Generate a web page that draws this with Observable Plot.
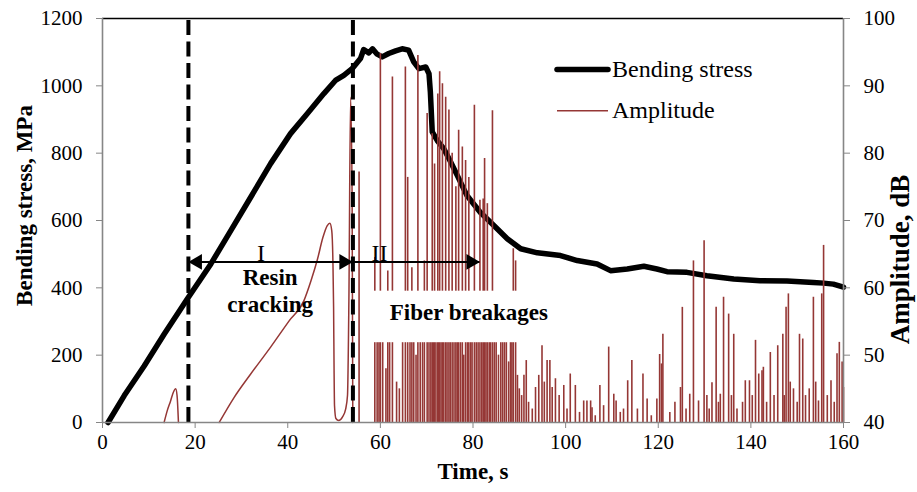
<!DOCTYPE html>
<html><head><meta charset="utf-8">
<script src="https://cdn.jsdelivr.net/npm/d3@7"></script>
<script src="https://cdn.jsdelivr.net/npm/@observablehq/plot@0.6"></script>
<style>
body{margin:0;background:#fff;}
#chart{width:917px;height:492px;}
</style></head><body><div id="chart"></div>
<script>
// ---------- data ----------
const xTicks = [0, 20, 40, 60, 80, 100, 120, 140, 160];
const yTicksMPa = [0, 200, 400, 600, 800, 1000, 1200];
const yTicksDb = [40, 50, 60, 70, 80, 90, 100];

const seriesNames = ["Bending stress", "Amplitude"];
const seriesColors = ["#000000", "#953735"];

const stressTime = [1.2, 4.7, 9.0, 13.3, 18.3, 23.4, 27.7, 32.0, 36.3, 40.6, 44.2, 47.8, 50.3, 52.1, 53.9, 55.7, 56.4, 57.5, 58.3, 59.3, 60.4, 61.8, 63.3, 64.7, 66.1, 67.2, 68.3, 69.8, 70.5, 70.8, 71.2, 72.3, 73.7, 75.1, 76.6, 78.7, 81.6, 84.5, 87.4, 90.3, 93.9, 98.9, 102.5, 106.8, 109.7, 113.3, 116.9, 119.7, 121.9, 126.2, 130.5, 136.3, 142.0, 147.8, 153.5, 155.7, 157.8, 160.0];
const stressMPa = [0, 80, 168, 262, 367, 471, 570, 669, 769, 858, 917, 977, 1016, 1031, 1051, 1081, 1108, 1098, 1110, 1094, 1086, 1096, 1104, 1110, 1106, 1071, 1051, 1056, 1036, 980, 863, 837, 813, 776, 734, 674, 624, 585, 546, 516, 504, 496, 481, 471, 451, 456, 464, 456, 448, 446, 436, 426, 421, 420, 416, 414, 411, 402];

// smooth part of the amplitude trace (null = gap)
const ampCurveTime = [13.3, 14.0, 14.7, 15.3, 15.8, 16.1, 16.4, 20.0, 25.2, 28.4, 32.0, 36.3, 40.3, 43.5, 45.0, 46.4, 47.6, 48.5, 49.1, 49.5, 49.75, 49.9, 50.0, 50.1, 50.4, 51.0, 51.8, 52.5, 52.9, 53.2, 53.57, 53.9, 54.05];
const ampCurveDb = [40, 41.8, 43.2, 44.5, 45, 44, 40, null, 40, 43.7, 47.2, 51.2, 55.1, 58.1, 61, 64.2, 67.5, 69.2, 69.6, 68.5, 64, 57, 48, 42.5, 40.6, 40.3, 40.8, 42, 44, 58, 88.3, 73, 40];

// acoustic emission hits (spikes)
const hitTime = [55.4, 58.8, 59.3, 59.7, 60.0, 60.5, 61.2, 61.6, 62.0, 62.6, 63.5, 64.1, 64.8, 65.4, 65.9, 66.4, 66.8, 67.2, 67.7, 68.1, 68.6, 69.1, 69.5, 70.1, 70.5, 70.9, 71.2, 71.5, 71.7, 72.0, 72.4, 72.6, 72.8, 73.1, 73.4, 73.7, 74.1, 74.4, 74.8, 75.1, 75.5, 75.9, 76.3, 76.6, 76.9, 77.3, 77.7, 78.0, 78.4, 78.8, 79.1, 79.5, 79.8, 80.3, 80.7, 81.1, 81.5, 81.9, 82.2, 82.5, 82.8, 83.1, 83.5, 83.8, 84.2, 84.6, 85.0, 85.5, 86.0, 86.4, 86.8, 87.2, 87.7, 88.1, 88.4, 88.7, 89.2, 89.6, 90.0, 90.5, 91.0, 91.5, 92.0, 92.8, 93.5, 94.2, 94.9, 95.4, 96.0, 96.6, 97.1, 97.8, 98.6, 99.6, 100.3, 101.0, 102.1, 103.0, 103.9, 104.6, 105.4, 105.7, 106.4, 107.4, 108.2, 109.3, 110.4, 110.9, 111.8, 112.5, 113.4, 114.3, 115.5, 116.7, 117.6, 118.5, 119.7, 120.3, 120.7, 121.0, 122.5, 123.6, 124.8, 125.2, 126.0, 126.8, 127.6, 128.7, 129.9, 130.5, 131.0, 131.6, 132.5, 133.0, 133.4, 134.1, 135.2, 135.8, 136.3, 137.0, 138.2, 138.8, 139.7, 140.3, 141.0, 141.7, 142.4, 142.7, 143.4, 144.2, 145.0, 145.8, 146.9, 147.2, 147.6, 148.1, 148.5, 149.2, 150.0, 150.5, 151.2, 151.8, 152.6, 153.5, 154.0, 154.6, 155.3, 155.7, 156.5, 157.3, 158.0, 158.6, 159.1, 159.7, 160.0];
const hitDb = [77.2, 64.5, 55, 52.5, 94.8, 54, 48, 62.5, 53, 91.3, 46, 45, 53, 92.8, 76.4, 52, 63, 53, 50, 94.5, 53, 54, 64, 85.9, 55, 53, 82.9, 54, 78.4, 55, 88.8, 54, 92.1, 56, 90.3, 55, 88.3, 54, 86.4, 53, 80, 55, 75, 52, 83.4, 54, 80.9, 50, 78.9, 53, 76.4, 52, 54, 87.1, 52, 53, 73, 55, 73.2, 79.2, 54, 72.5, 53, 52, 86.3, 54, 52, 50, 53, 52, 55, 52, 49, 53, 55, 65.8, 64, 47, 45, 44, 47, 49.2, 43, 42, 45.2, 47, 51.4, 46, 49.2, 49.2, 45.2, 46.5, 44, 45.5, 42, 47.2, 45.5, 41.5, 43.2, 43.2, 43.2, 42.2, 41, 45.5, 42.5, 51.2, 44.2, 43.2, 41.5, 42, 46.2, 49.2, 42, 47.2, 43.5, 41, 43.5, 50.1, 48.7, 53.1, 41.5, 43, 45.2, 57.1, 42, 44.2, 64.0, 43.2, 67.0, 44, 42, 45.9, 57.1, 43, 44.2, 58.6, 56.1, 44, 53.1, 42, 43, 46.2, 46.2, 44, 52.2, 47.2, 47.7, 48.2, 43, 50.4, 44, 51.4, 53.1, 44, 57.1, 59.1, 46, 45, 43, 53.1, 52.4, 44, 45, 58.6, 46, 43.2, 59.1, 66.3, 44, 46.2, 43, 50.2, 51.9, 49, 45.2];

// annotations (stage boundaries, arrow level, labels)
const stageBounds = [18.55, 54.07];
const stageArrowEnd = 81.5;
const arrowLevel = 477;
const stageNames = ["I", "II"];
const stageNameTime = [34.2, 59.8];
const stageNameLevel = 504;
const stageTexts = ["Resin\ncracking", "Fiber breakages"];
const stageTextTime = [36.2, 79.1];
const stageTextLevel = [395, 329];
const fiberBox = {x1: 57.4, x2: 99.0, y1: 237, y2: 390};

// ---------- build ----------
const dbToY = db => (db - 40) * 20;   // right axis 40–100 dB ↔ left axis 0–1200 MPa
const stressData = stressTime.map((t, i) => ({t, v: stressMPa[i]}));
const ampCurveData = ampCurveTime.map((t, i) => ({t, db: ampCurveDb[i]}));
const hitData = hitTime.map((t, i) => ({t, db: hitDb[i]}));
const ampColor = seriesColors[1];
const axisGray = "#868686";
const serif = "'Liberation Serif', 'Times New Roman', serif";

const svg = Plot.plot({
  width: 917, height: 492,
  marginLeft: 102, marginRight: 74, marginTop: 18, marginBottom: 70,
  style: {fontFamily: serif, fontSize: "21px", background: "white", color: "black", overflow: "visible"},
  x: {domain: [0, 160]},
  y: {domain: [0, 1200]},
  marks: [
    Plot.line(stressData, {x: "t", y: "v", stroke: seriesColors[0], strokeWidth: 5.5, strokeLinejoin: "round", strokeLinecap: "round"}),
    Plot.line(ampCurveData, {x: "t", y: d => d.db == null ? NaN : dbToY(d.db), stroke: ampColor, strokeWidth: 1.5, curve: "monotone-x"}),
    Plot.ruleX(hitData, {x: "t", y1: 0, y2: d => dbToY(d.db), stroke: ampColor, strokeWidth: 1.6}),
    Plot.ruleX(stageBounds, {y1: 0, y2: 1200, stroke: "black", strokeWidth: 4, strokeDasharray: "15,6.5"}),
    Plot.ruleY([arrowLevel], {x1: stageBounds[0], x2: stageArrowEnd, stroke: "black", strokeWidth: 2}),
    Plot.dot([stageBounds[0]], {x: d => d, y: arrowLevel, symbol: "triangle", r: 5.8, fill: "black", stroke: null, rotate: -90, dx: 9}),
    Plot.dot([stageBounds[1], stageArrowEnd], {x: d => d, y: arrowLevel, symbol: "triangle", r: 5.8, fill: "black", stroke: null, rotate: 90, dx: -9}),
    Plot.rect([fiberBox], {x1: "x1", x2: "x2", y1: "y1", y2: "y2", fill: "white"}),
    Plot.text(stageNames, {x: (d, i) => stageNameTime[i], y: stageNameLevel, text: d => d, fontSize: 24, fontFamily: serif}),
    Plot.text(stageTexts, {x: (d, i) => stageTextTime[i], y: (d, i) => stageTextLevel[i], text: d => d, fontSize: 23, fontWeight: "bold", fontFamily: serif, lineHeight: 1.17}),
    Plot.ruleY([1200], {stroke: "black", strokeWidth: 1.3}),
    Plot.ruleX([0, 160], {y1: 0, y2: 1200, stroke: axisGray, strokeWidth: 1.6}),
    Plot.ruleY([0], {stroke: axisGray, strokeWidth: 1.6}),
    Plot.axisX(xTicks, {anchor: "bottom", tickSize: 6, tickPadding: 6, stroke: axisGray, fill: "black", fontSize: 21, label: null, tickFormat: v => String(v)}),
    Plot.axisY(yTicksMPa, {anchor: "left", tickSize: 6, tickPadding: 14, stroke: axisGray, fill: "black", fontSize: 21, label: null, tickFormat: v => String(v)}),
    Plot.axisY(yTicksDb.map(dbToY), {anchor: "right", tickSize: 6, tickPadding: 14, stroke: axisGray, fill: "black", fontSize: 21, label: null, tickFormat: v => String(v / 20 + 40)}),
    Plot.text(["Time, s"], {frameAnchor: "bottom", dy: 56, text: d => d, fontSize: 23, fontWeight: "bold", fontFamily: serif, textAnchor: "middle"}),
    Plot.text(["Bending stress, MPa"], {frameAnchor: "left", dx: -77.5, dy: -15, rotate: -90, textAnchor: "middle", text: d => d, fontSize: 23, fontWeight: "bold", fontFamily: serif}),
    Plot.text(["Amplitude, dB"], {frameAnchor: "right", dx: 57, dy: 39, rotate: -90, textAnchor: "middle", text: d => d, fontSize: 27, fontWeight: "bold", fontFamily: serif})
  ]
});
document.getElementById("chart").appendChild(svg);

// legend (inside plot area, top right)
const legend = d3.select(svg).append("g").attr("font-family", serif).attr("font-size", 24).attr("text-anchor", "start");
const legendRows = [69.5, 110.7];
const legendWidths = [5.5, 1.5];
seriesNames.forEach((name, i) => {
  legend.append("line").attr("x1", 557).attr("x2", 608).attr("y1", legendRows[i]).attr("y2", legendRows[i])
    .attr("stroke", seriesColors[i]).attr("stroke-width", legendWidths[i]).attr("stroke-linecap", i === 0 ? "round" : "butt");
  legend.append("text").attr("x", 612).attr("y", legendRows[i]).attr("dy", "0.32em").attr("fill", "black").attr("text-anchor", "start").text(name);
});
</script></body></html>
